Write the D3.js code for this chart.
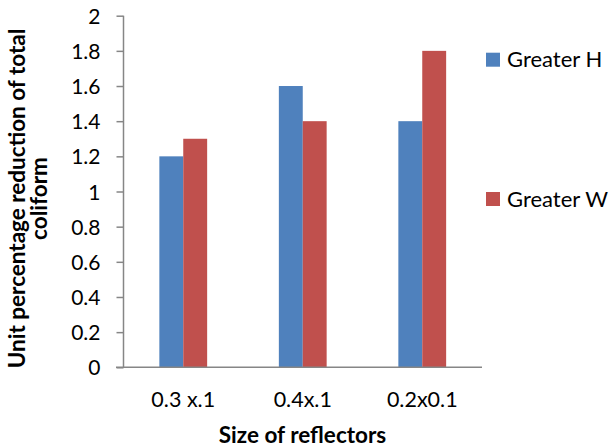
<!DOCTYPE html>
<html><head><meta charset="utf-8">
<script src="https://cdn.jsdelivr.net/npm/d3@7"></script>
<style>body{margin:0;background:#fff;} text{font-family:Lato,"Open Sans",sans-serif;}</style>
</head><body>
<svg id="c" width="612" height="448"></svg>
<script>
const categories = ["0.3 x.1", "0.4x.1", "0.2x0.1"];
const seriesNames = ["Greater H", "Greater W"];
const greaterH = [1.2, 1.6, 1.4];
const greaterW = [1.3, 1.4, 1.8];
const yTicks = [0, 0.2, 0.4, 0.6, 0.8, 1, 1.2, 1.4, 1.6, 1.8, 2];
const colors = ["#4F81BD", "#C0504D"];

const svg = d3.select("#c");
const L = 123.5, R = 482, T = 15.7, B = 367.3;
const x = d3.scaleBand().domain(categories).range([L, R]).paddingInner(0.6).paddingOuter(0.3);
const xs = d3.scaleBand().domain(seriesNames).range([0, x.bandwidth()]);
const y = d3.scaleLinear().domain([0, 2]).range([B, T]);
const data = [greaterH, greaterW];

// bars
seriesNames.forEach((s, si) => {
  svg.append("g").selectAll("rect").data(categories).join("rect")
    .attr("x", c => x(c) + xs(s))
    .attr("y", (c, i) => y(data[si][i]))
    .attr("width", xs.bandwidth())
    .attr("height", (c, i) => y(0) - y(data[si][i]))
    .attr("fill", colors[si]);
});

// y axis
const ya = svg.append("g").attr("transform", `translate(${L},0)`)
  .call(d3.axisLeft(y).tickValues(yTicks).tickFormat(d3.format("")).tickSize(7).tickPadding(16));
ya.select(".domain").attr("stroke", "#868686").attr("stroke-width", 1.5).attr("d", `M0,${T}V${B}`);
ya.selectAll(".tick line").attr("stroke", "#868686").attr("stroke-width", 1.5);
ya.selectAll(".tick text").attr("font-size", "21px").attr("fill", "#000").attr("dy", "0.36em").style("font-family", "Lato");

// x axis
const xa = svg.append("g").attr("transform", `translate(0,${B})`)
  .call(d3.axisBottom(x).tickSize(0).tickPadding(0));
xa.select(".domain").attr("stroke", "#868686").attr("stroke-width", 1.5).attr("d", `M116,0H${R}`);
xa.selectAll(".tick text").attr("font-size", "21.5px").attr("fill", "#000").attr("y", 39.5).attr("dy", 0).style("font-family", "Lato");

// axis titles
svg.append("text").attr("x", 302.5).attr("y", 443).attr("text-anchor", "middle")
  .attr("font-size", "22.5px").attr("font-weight", "bold").text("Size of reflectors");
const yt = svg.append("text").attr("transform", "translate(0,198.5) rotate(-90)")
  .attr("text-anchor", "middle").attr("font-size", "22.5px").attr("font-weight", "bold");
yt.append("tspan").attr("x", 0).attr("y", 25).text("Unit percentage reduction of total");
yt.append("tspan").attr("x", 0).attr("y", 47).text("coliform");

// legend
const legY = [59.7, 199];
seriesNames.forEach((s, i) => {
  const g = svg.append("g").attr("transform", `translate(486,${legY[i]})`);
  g.append("rect").attr("x", 0).attr("y", -7).attr("width", 14).attr("height", 14).attr("fill", colors[i]);
  g.append("text").attr("x", 21).attr("y", 7.5).attr("font-size", "22px").attr("fill", "#000").text(s);
});
</script>
</body></html>
